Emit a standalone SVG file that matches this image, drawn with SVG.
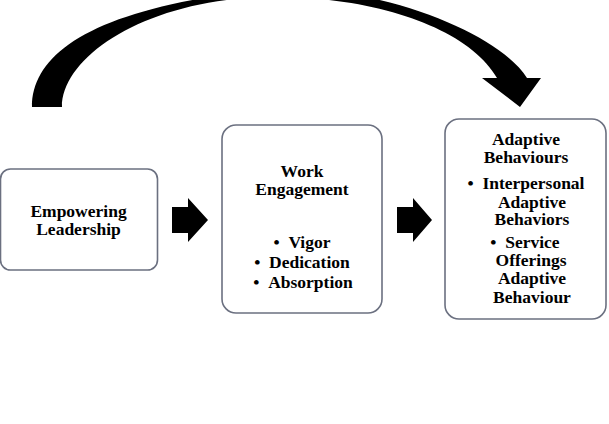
<svg xmlns="http://www.w3.org/2000/svg" width="609" height="424" viewBox="0 0 609 424">
<style>
.box{fill:#ffffff;stroke:#6b7080;stroke-width:1.6}
.t{font-family:"Liberation Serif","Times New Roman",serif;font-weight:bold;font-size:17.5px;fill:#000;text-anchor:middle}
.arr{fill:#000}
</style>
<rect x="0" y="0" width="609" height="424" fill="#ffffff"/>
<g id="connectors">
<path class="arr" d="M32,107 C32,50 100,5 280,-12 C390,-12 500,35 527,78 L541,78 L520,107 L482,78 L497,78 C470,30 380,-3 275,-3 C150,-3 62,55 62,107 Z"/>
<path class="arr" d="M172,207 L188,207 L188,198 L208,220 L188,242 L188,233 L172,233 Z"/>
<path class="arr" d="M397,207 L413,207 L413,198 L432,220 L413,242 L413,233 L397,233 Z"/>
</g>
<g id="node-empowering">
<rect class="box" x="0.5" y="169" width="157" height="101" rx="10"/>
<text class="t" x="78.5" y="217">Empowering</text>
<text class="t" x="78.5" y="235">Leadership</text>
</g>
<g id="node-engagement">
<rect class="box" x="222" y="125" width="160" height="188" rx="14"/>
<text class="t" x="302" y="177">Work</text>
<text class="t" x="302" y="195">Engagement</text>
<text class="t" x="302" y="248">•&#8194;Vigor</text>
<text class="t" x="302" y="268">•&#8194;Dedication</text>
<text class="t" x="303" y="288">•&#8194;Absorption</text>
</g>
<g id="node-adaptive">
<rect class="box" x="445" y="119" width="161" height="200" rx="14"/>
<text class="t" x="526" y="145">Adaptive</text>
<text class="t" x="526" y="163">Behaviours</text>
<text class="t" x="526" y="189">•&#8194;Interpersonal</text>
<text class="t" x="532" y="208">Adaptive</text>
<text class="t" x="532" y="225">Behaviors</text>
<text class="t" x="525" y="248">•&#8194;Service</text>
<text class="t" x="531" y="266">Offerings</text>
<text class="t" x="532" y="284">Adaptive</text>
<text class="t" x="532" y="303">Behaviour</text>
</g>
</svg>
